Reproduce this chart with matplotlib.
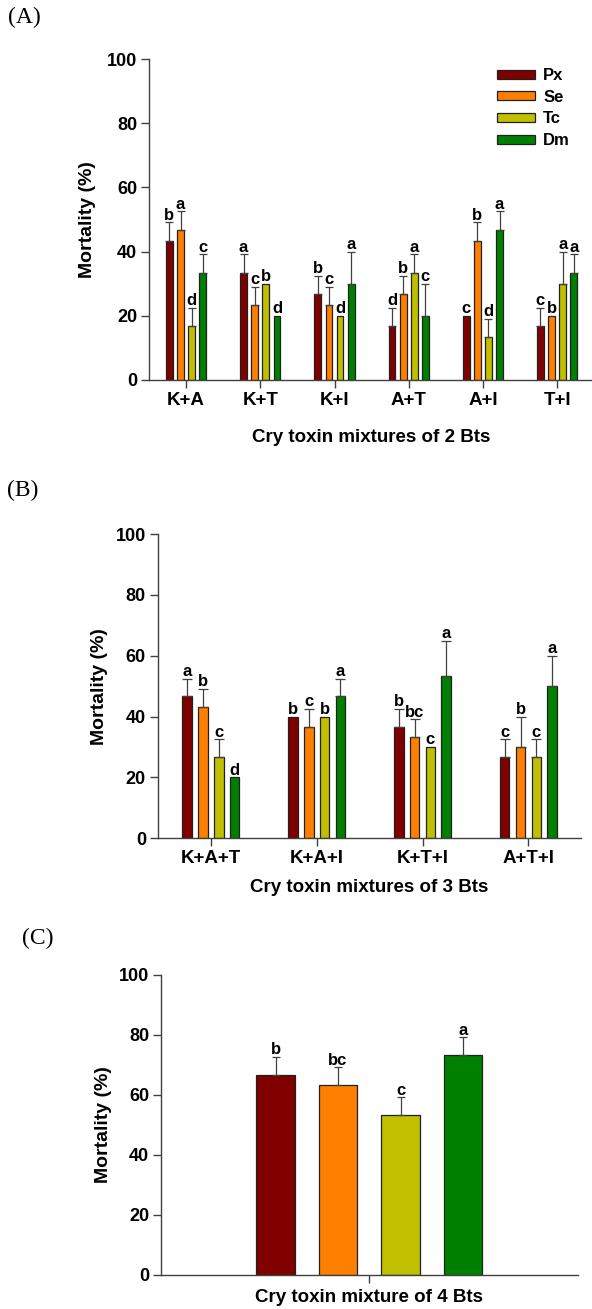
import numpy as np
import matplotlib
matplotlib.use('Agg')
import matplotlib.pyplot as plt
from matplotlib.patches import Patch

species = ['Px', 'Se', 'Tc', 'Dm']
colors = ['#800000', '#ff8000', '#c0c000', '#008000']

# (A) mixtures of 2 Bts
groups2 = ['K+A', 'K+T', 'K+I', 'A+T', 'A+I', 'T+I']
px2 = [43.3, 33.3, 26.7, 16.7, 20.0, 16.7]
se2 = [46.7, 23.3, 23.3, 26.7, 43.3, 20.0]
tc2 = [16.7, 30.0, 20.0, 33.3, 13.3, 30.0]
dm2 = [33.3, 20.0, 30.0, 20.0, 46.7, 33.3]
px2_err = [5.8, 5.8, 5.8, 5.8, 0, 5.8]
se2_err = [5.8, 5.8, 5.8, 5.8, 5.8, 0]
tc2_err = [5.8, 0, 0, 5.8, 5.8, 10.0]
dm2_err = [5.8, 0, 10.0, 10.0, 5.8, 5.8]
px2_let = ['b', 'a', 'b', 'd', 'c', 'c']
se2_let = ['a', 'c', 'c', 'b', 'b', 'b']
tc2_let = ['d', 'b', 'd', 'a', 'd', 'a']
dm2_let = ['c', 'd', 'a', 'c', 'a', 'a']

# (B) mixtures of 3 Bts
groups3 = ['K+A+T', 'K+A+I', 'K+T+I', 'A+T+I']
px3 = [46.7, 40.0, 36.7, 26.7]
se3 = [43.3, 36.7, 33.3, 30.0]
tc3 = [26.7, 40.0, 30.0, 26.7]
dm3 = [20.0, 46.7, 53.3, 50.0]
px3_err = [5.8, 0, 5.8, 5.8]
se3_err = [5.8, 5.8, 5.8, 10.0]
tc3_err = [5.8, 0, 0, 5.8]
dm3_err = [0, 5.8, 11.5, 10.0]
px3_let = ['a', 'b', 'b', 'c']
se3_let = ['b', 'c', 'bc', 'b']
tc3_let = ['c', 'b', 'c', 'c']
dm3_let = ['d', 'a', 'a', 'a']

# (C) mixture of 4 Bts
groups4 = ['']
px4 = [66.7]
se4 = [63.3]
tc4 = [53.3]
dm4 = [73.3]
px4_err = [5.8]
se4_err = [5.8]
tc4_err = [5.8]
dm4_err = [5.8]
px4_let = ['b']
se4_let = ['bc']
tc4_let = ['c']
dm4_let = ['a']

plt.rcParams['font.family'] = 'Liberation Sans'
plt.rcParams['font.weight'] = 'bold'
axcol = '#404040'


def draw_panel(ax, groups, vals, errs, lets, capsize, xlabel, xlab_y, ylab_x):
    x = np.arange(len(groups))
    step = 0.15
    width = 0.092
    for k in range(4):
        xs = x + (k - 1.5) * step
        v = np.asarray(vals[k], dtype=float)
        e = np.asarray(errs[k], dtype=float)
        ax.bar(xs, v, width, color=colors[k], edgecolor='#202020', linewidth=0.9, zorder=2)
        m = e > 0
        if m.any():
            ax.errorbar(xs[m], v[m], yerr=[np.zeros(m.sum()), e[m]], fmt='none',
                        ecolor=axcol, elinewidth=0.9, capsize=capsize, capthick=0.9, zorder=3)
        for xi, vi, ei, li in zip(xs, v, e, lets[k]):
            ax.annotate(li, (xi, vi + ei), xytext=(0, 2), textcoords='offset points',
                        ha='center', va='baseline', fontsize=12, fontweight='bold')

    ax.set_xlim(-0.5, len(groups) - 0.5)
    ax.set_ylim(0, 100)
    ax.set_yticks(range(0, 101, 20))
    ax.set_xticks(x)
    ax.set_xticklabels(groups)
    ax.spines[['top', 'right']].set_visible(False)
    for s in ['left', 'bottom']:
        ax.spines[s].set_color(axcol)
        ax.spines[s].set_linewidth(1)
    ax.tick_params(axis='y', direction='out', length=5.5, width=1, color=axcol, labelsize=13, pad=3)
    ax.tick_params(axis='x', direction='out', length=5.5, width=1, color=axcol, labelsize=13.5, pad=3)
    ax.set_ylabel('Mortality (%)', fontsize=14, fontweight='bold')
    ax.yaxis.label.set_va('center')
    ax.yaxis.set_label_coords(ylab_x, 0.5)
    ax.set_xlabel(xlabel, fontsize=13.5, fontweight='bold')
    ax.xaxis.label.set_va('center')
    ax.xaxis.set_label_coords(0.5, xlab_y)


W, H = 592, 1309
fig = plt.figure(figsize=(W / 100, H / 100), dpi=100)


def add_axes(left, right, top, bottom):
    return fig.add_axes([left / W, 1 - bottom / H, (right - left) / W, (bottom - top) / H])


axA = add_axes(149, 594.2, 59, 380)
draw_panel(axA, groups2, [px2, se2, tc2, dm2], [px2_err, se2_err, tc2_err, dm2_err],
           [px2_let, se2_let, tc2_let, dm2_let], 2.6,
           'Cry toxin mixtures of 2 Bts', -(437 - 380) / 321, -(149 - 88) / 445)

handles = [Patch(facecolor=c, edgecolor='#202020', linewidth=0.9) for c in colors]
axA.legend(handles, species, loc='upper left', bbox_to_anchor=(0.781, 0.972), frameon=False,
           fontsize=12, handlelength=2.3, handleheight=0.45, handletextpad=0.5,
           labelspacing=0.4, borderpad=0, borderaxespad=0)

axB = add_axes(157.75, 581.4, 534, 838.3)
draw_panel(axB, groups3, [px3, se3, tc3, dm3], [px3_err, se3_err, tc3_err, dm3_err],
           [px3_let, se3_let, tc3_let, dm3_let], 3.6,
           'Cry toxin mixtures of 3 Bts', -(887 - 838.3) / 304.3, -(157.75 - 100) / 423.6)

axC = add_axes(161, 577.6, 974.7, 1274.5)
draw_panel(axC, groups4, [px4, se4, tc4, dm4], [px4_err, se4_err, tc4_err, dm4_err],
           [px4_let, se4_let, tc4_let, dm4_let], 3.2,
           'Cry toxin mixture of 4 Bts', -(1298 - 1274.5) / 299.8, -(161 - 103) / 416.6)

for lab, px, py in [('(A)', 24.5, 17), ('(B)', 22.5, 490), ('(C)', 38, 938)]:
    fig.text(px / W, 1 - py / H, lab, family='Liberation Serif', fontweight='normal',
             fontsize=17, ha='center', va='center')

fig.savefig('out.png', dpi=100)
